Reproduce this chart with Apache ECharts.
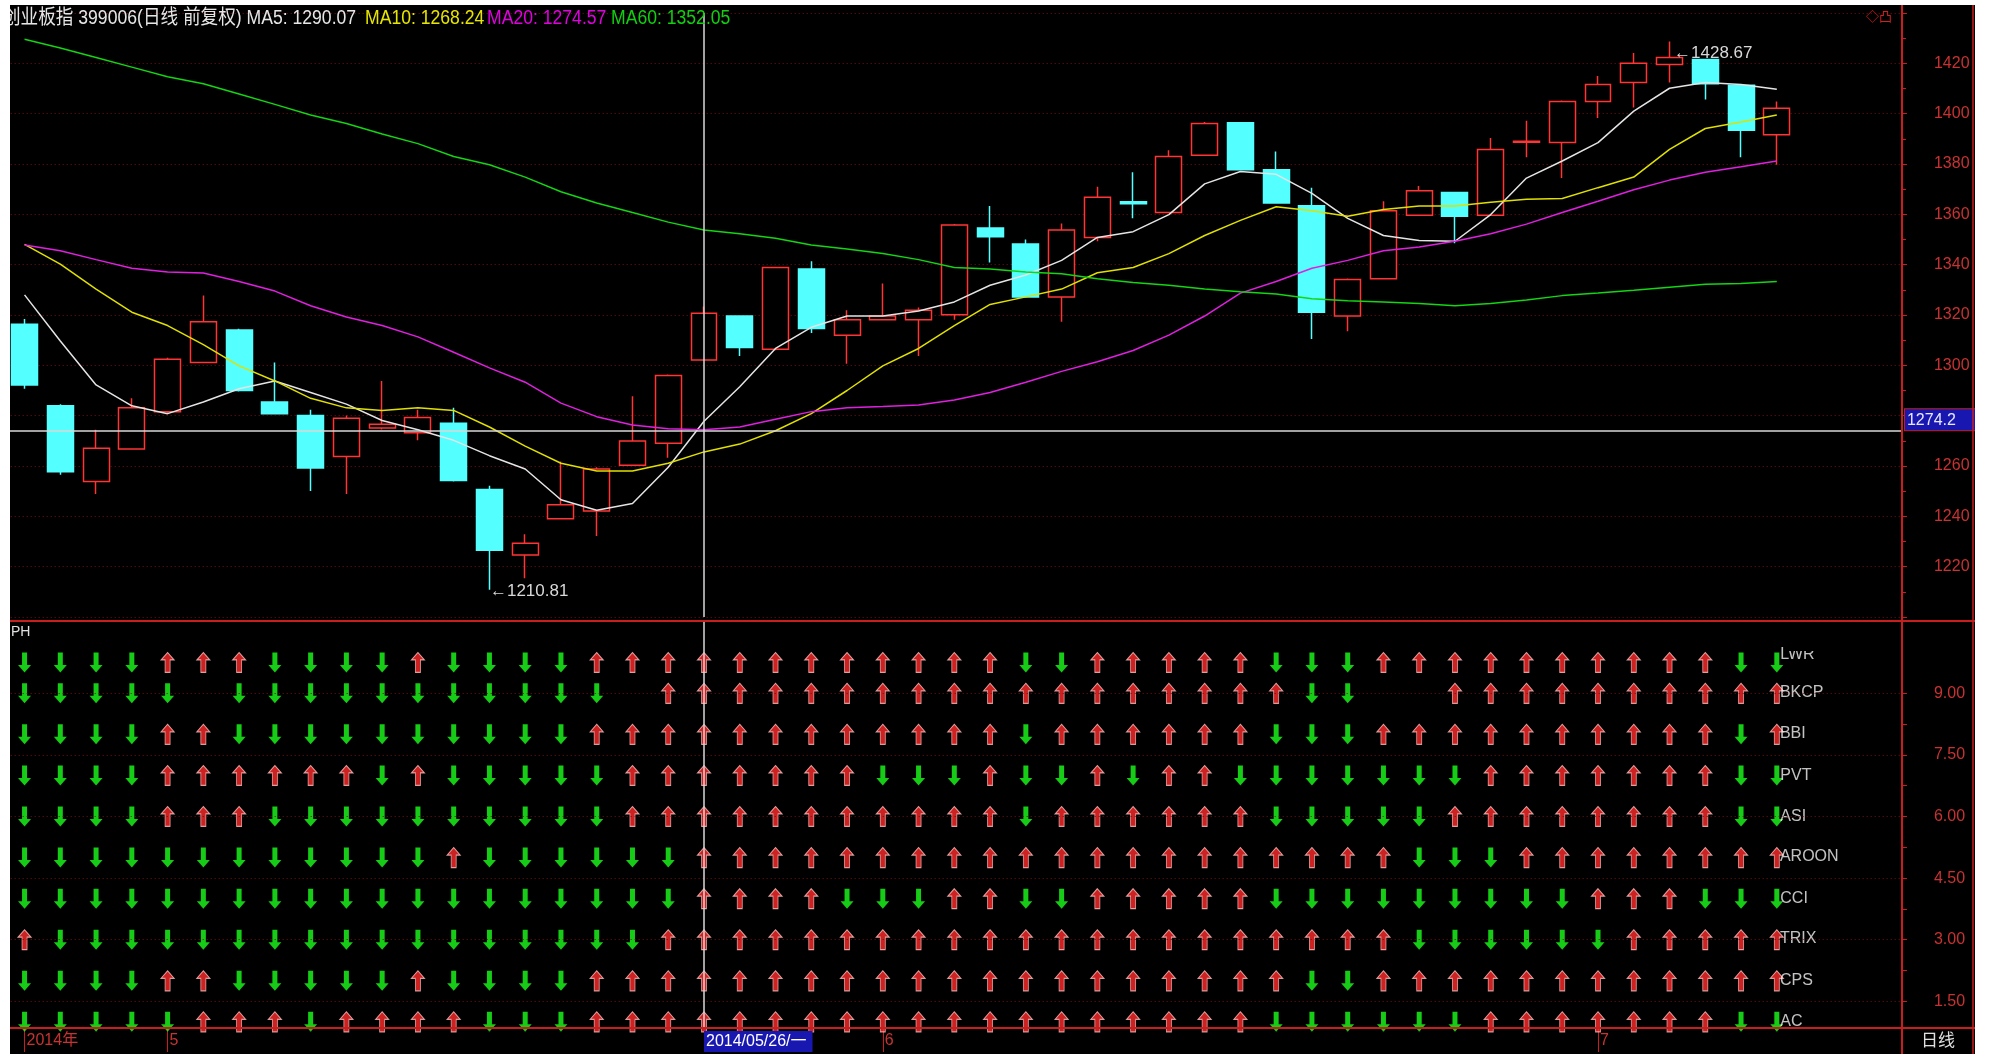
<!DOCTYPE html>
<html><head><meta charset="utf-8">
<script src="https://cdn.jsdelivr.net/npm/echarts@6/dist/echarts.min.js"></script>
<style>html,body{margin:0;padding:0;background:#fff}#c{width:1995px;height:1059px}</style>
</head><body><div id="c"></div>
<script>
// ---------------- data ----------------
const dates = ['2014/04/25','2014/04/28','2014/04/29','2014/04/30','2014/05/05','2014/05/06','2014/05/07','2014/05/08','2014/05/09','2014/05/12',
'2014/05/13','2014/05/14','2014/05/15','2014/05/16','2014/05/19','2014/05/20','2014/05/21','2014/05/22','2014/05/23','2014/05/26',
'2014/05/27','2014/05/28','2014/05/29','2014/05/30','2014/06/03','2014/06/04','2014/06/05','2014/06/06','2014/06/09','2014/06/10',
'2014/06/11','2014/06/12','2014/06/13','2014/06/16','2014/06/17','2014/06/18','2014/06/19','2014/06/20','2014/06/23','2014/06/24',
'2014/06/25','2014/06/26','2014/06/27','2014/06/30','2014/07/01','2014/07/02','2014/07/03','2014/07/04','2014/07/07','2014/07/08'];
const opens  = [1316.3,1283.9,1253.8,1266.8,1281.6,1301.1,1314.0,1285.4,1280.1,1263.8,
1275.1,1273.2,1277.0,1250.7,1224.6,1239.0,1242.1,1260.3,1269.0,1302.1,
1319.6,1306.4,1338.3,1312.0,1318.1,1318.1,1320.1,1354.6,1348.2,1327.2,
1350.8,1365.0,1360.7,1383.5,1396.4,1377.7,1363.4,1319.6,1334.4,1359.6,
1368.7,1359.6,1388.6,1388.5,1404.8,1412.4,1419.5,1421.5,1411.3,1391.6];
const closes = [1292.2,1257.7,1267.1,1283.1,1302.4,1317.3,1290.0,1280.8,1259.2,1279.0,
1276.6,1279.3,1254.2,1226.5,1229.3,1244.6,1258.8,1269.9,1296.0,1320.7,
1307.1,1338.9,1314.6,1318.1,1319.6,1321.9,1355.8,1351.1,1327.2,1353.8,
1366.8,1364.2,1383.0,1396.1,1377.7,1364.5,1321.1,1334.1,1361.4,1369.4,
1359.2,1385.8,1389.0,1404.8,1411.6,1420.0,1422.3,1411.9,1393.4,1402.2];
const lows   = [1290.7,1256.5,1248.9,1266.5,1281.0,1300.8,1289.6,1280.5,1250.1,1248.9,
1274.5,1270.2,1253.8,1210.81,1215.4,1238.7,1232.2,1260.0,1263.3,1301.8,
1303.7,1306.0,1312.8,1300.6,1317.8,1303.7,1318.1,1340.9,1326.9,1317.3,
1349.3,1358.4,1360.4,1383.2,1377.4,1364.2,1310.5,1313.5,1334.1,1359.3,
1348.5,1359.3,1382.7,1374.4,1398.3,1402.5,1412.4,1405.6,1382.7,1379.7];
const highs  = [1318.4,1284.5,1274.4,1286.9,1303.0,1327.7,1314.5,1301.1,1282.4,1280.1,
1293.8,1282.4,1283.1,1252.2,1232.9,1261.8,1259.5,1287.7,1296.4,1323.4,
1319.9,1339.2,1341.4,1321.9,1332.5,1323.0,1356.2,1363.3,1350.0,1356.4,
1371.0,1376.7,1385.5,1396.7,1396.7,1385.0,1370.6,1334.5,1365.2,1371.3,
1369.0,1390.3,1397.2,1405.2,1415.0,1424.1,1428.67,1421.8,1411.6,1404.8];
const ma5  = [1328.0,1309.7,1292.2,1283.9,1280.8,1285.4,1290.7,1293.8,1289.2,1284.6,
1278.1,1274.4,1270.2,1264.1,1258.8,1246.6,1242.4,1245.1,1259.5,1277.8,
1291.5,1306.7,1315.1,1319.6,1319.6,1321.6,1325.2,1331.8,1335.9,1341.7,
1350.8,1353.1,1359.9,1372.1,1377.0,1375.9,1368.3,1358.4,1351.6,1349.6,
1349.3,1359.9,1374.4,1381.2,1388.5,1401.0,1410.1,1412.4,1411.6,1409.7];
const ma10 = [1348.1,1340.2,1330.3,1321.1,1315.8,1308.2,1299.8,1293.8,1286.9,1283.1,
1282.1,1283.1,1282.1,1275.5,1267.9,1261.1,1258.0,1258.0,1261.1,1265.6,
1268.7,1274.0,1280.8,1290.0,1299.8,1306.7,1315.8,1324.2,1327.2,1330.3,
1336.8,1338.9,1344.4,1351.6,1357.6,1363.0,1361.4,1359.2,1361.9,1363.3,
1363.3,1364.8,1366.0,1366.3,1370.6,1374.8,1385.8,1394.1,1396.7,1399.5];
const ma20 = [1347.8,1345.5,1342.0,1338.6,1337.1,1336.7,1333.3,1329.5,1323.7,1319.2,
1315.8,1311.3,1305.2,1299.0,1293.3,1285.0,1279.6,1276.3,1274.8,1274.4,
1275.5,1278.6,1281.6,1283.1,1283.6,1284.2,1286.2,1289.2,1293.3,1297.6,
1301.4,1305.9,1312.0,1319.6,1328.7,1333.3,1338.6,1341.7,1345.5,1347.0,
1349.3,1352.3,1356.1,1360.7,1365.2,1369.8,1373.6,1376.7,1378.9,1381.2];
const ma60 = [1429.6,1426.1,1422.3,1418.5,1414.7,1411.9,1407.8,1403.7,1399.5,1396.1,
1391.9,1388.1,1383.0,1379.7,1374.8,1369.0,1364.5,1360.7,1356.9,1353.8,
1352.3,1350.5,1347.8,1346.2,1344.4,1342.0,1338.9,1338.3,1337.1,1336.4,
1334.4,1332.9,1331.8,1330.3,1329.2,1328.3,1326.5,1325.7,1325.2,1324.6,
1323.7,1324.6,1326.0,1327.7,1328.7,1329.8,1331.0,1332.2,1332.5,1333.3];

const rowNames  = ['LWR','BKCP','BBI','PVT','ASI','AROON','CCI','TRIX','CPS','AC'];
const rowLevels = [9.75, 9, 8, 7, 6, 5, 4, 3, 2, 1];
// U = red up arrow, D = green down arrow, _ = empty
const rowSignals = [
 'DDDDUUUDDDDUDDDDUUUUUUUUUUUUDDUUUUUDDDUUUUUUUUUUDD',
 'DDDDD_DDDDDDDDDDD_UUUUUUUUUUUUUUUUUUDD__UUUUUUUUUU',
 'DDDDUUDDDDDDDDDDUUUUUUUUUUUUDUUUUUUDDDUUUUUUUUUUDU',
 'DDDDUUUUUUDUDDDDDUUUUUUUDDDUDDUDUUDDDDDDDUUUUUUUDD',
 'DDDDUUUDDDDDDDDDDUUUUUUUUUUUDUUUUUUDDDDDUUUUUUUUDD',
 'DDDDDDDDDDDDUDDDDDDUUUUUUUUUUUUUUUUUUUUDDDUUUUUUUU',
 'DDDDDDDDDDDDDDDDDDDUUUUDDDUUDDUUUUUDDDDDDDDDUUUDDD',
 'UDDDDDDDDDDDDDDDDDUUUUUUUUUUUUUUUUUUUUUDDDDDDUUUUU',
 'DDDDUUDDDDDUDDDDUUUUUUUUUUUUUUUUUUUUDDUUUUUUUUUUUU',
 'DDDDDUUUDUUUUDDDUUUUUUUUUUUUUUUUUUUDDDDDDUUUUUUUDD'
];
const lowerTickLabels = [1.5, 3, 4.5, 6, 7.5, 9];
const crossIndex = 19;
const crossPrice = 1274.2;
const crossDateLabel = '2014/05/26/一';
const headerTitle = '创业板指 399006(日线 前复权) MA5: 1290.07';
const headerMA10 = 'MA10: 1268.24';
const headerMA20 = 'MA20: 1274.57';
const headerMA60 = 'MA60: 1352.05';

// ---------------- styling helpers ----------------
const RED = '#c81e1e';
const LBL = '#c83232';
const GRIDC = '#741010';
const UP = 'path://M6.5,0 L13,7.5 L9,7.5 L9,20 L4,20 L4,7.5 L0,7.5 Z';
const DOWN = 'path://M4,0 L9,0 L9,12.5 L13,12.5 L6.5,20 L0,12.5 L4,12.5 Z';
const upStyle = {color:'#ff2a2a', borderColor:'#ffc0c0', borderWidth:1};
const downStyle = {color:'#1cff1c'};
const SANS = '"Liberation Sans",Arial,"Noto Sans CJK SC",sans-serif';
const HFONT = '20px "Liberation Sans","Noto Sans CJK SC",sans-serif';

const lowerTickMarks = [];
lowerTickLabels.forEach((v,i)=>{ lowerTickMarks.push(v); if(i<lowerTickLabels.length-1) lowerTickMarks.push((v+lowerTickLabels[i+1])/2); });

const monthStart = (i) => i === 0 || (i < dates.length && dates[i].slice(5,7) !== dates[i-1].slice(5,7));

const rowSeries = rowNames.map((name, r) => {
  const sig = rowSignals[r];
  const data = [];
  for (let i = 0; i < dates.length; i++) {
    const c = sig[i];
    if (c !== 'U' && c !== 'D') continue;
    const item = {value:[dates[i], rowLevels[r]], symbol: c==='U'?UP:DOWN, itemStyle: c==='U'?upStyle:downStyle};
    if (i === dates.length-1) item.label = {show:true, formatter:name, position:[10, r===0?2:10], align:'left', verticalAlign:'middle', color:'#f2f2f2', fontSize:16, fontFamily:SANS};
    data.push(item);
  }
  const s = {type:'scatter', name, xAxisIndex:1, yAxisIndex:1, symbolSize:[13,20], data, z:3, silent:true};
  if (r === 0) {
    s.markLine = {silent:true, symbol:['none','none'], animation:false,
      data: lowerTickLabels.map(v => ({yAxis:v, lineStyle:{color:GRIDC, type:[1,3], width:1}, label:{show:false}}))
        .concat([{xAxis: dates[crossIndex], lineStyle:{color:'#d8d8d8', type:'solid', width:1.5},
          label:{show:true, position:'start', formatter: crossDateLabel, distance:3, align:'left', verticalAlign:'top',
            backgroundColor:'#1818b0', color:'#ffffff', padding:[3,6,2,2], fontSize:16, fontFamily:SANS}}])
    };
  }
  return s;
});

const chart = echarts.init(document.getElementById('c'));
const option = {
  animation:false,
  backgroundColor:'#000',
  grid:[
    {left:6.67, top:13, width:1895.3, height:604},
    {left:6.67, top:621, width:1895.3, height:407}
  ],
  xAxis:[
    {type:'category', gridIndex:0, data:dates, max:52, show:false},
    {type:'category', gridIndex:1, data:dates, max:52,
      axisLine:{show:true, lineStyle:{color:RED, width:2}},
      axisTick:{show:true, alignWithLabel:true, interval:(i)=>monthStart(i), length:24, lineStyle:{color:RED}},
      axisLabel:{show:true, interval:(i)=>monthStart(i), align:'left', padding:[0,0,0,2], margin:5, color:LBL, fontSize:16,
        fontFamily:SANS,
        formatter:(v,i)=> i===0 ? v.slice(0,4)+'年' : String(parseInt(v.slice(5,7),10))},
      splitLine:{show:false}}
  ],
  yAxis:[
    {type:'value', gridIndex:0, position:'right', min:1200, max:1440, interval:20,
      axisLine:{show:true, lineStyle:{color:RED, width:2}},
      axisTick:{show:true, length:5, lineStyle:{color:RED}},
      minorTick:{show:true, splitNumber:2, length:4, lineStyle:{color:RED}},
      axisLabel:{showMinLabel:false, showMaxLabel:false, margin:32, color:LBL, fontSize:16, fontFamily:SANS,
        formatter:(v)=> Math.abs(v-crossPrice) < 12 ? '' : String(v)},
      splitLine:{show:true, lineStyle:{color:GRIDC, type:[1,3], width:1}}},
    {type:'value', gridIndex:1, position:'right', min:0.85, max:10.76,
      axisLine:{show:true, lineStyle:{color:RED, width:2}},
      axisTick:{show:true, customValues:lowerTickMarks, length:5, lineStyle:{color:RED}},
      axisLabel:{show:true, customValues:lowerTickLabels, margin:32, color:LBL, fontSize:16, fontFamily:SANS,
        formatter:(v)=> Number(v).toFixed(2)},
      splitLine:{show:false}}
  ],
  series:[
    {type:'candlestick', name:'K', xAxisIndex:0, yAxisIndex:0, barWidth:'74%', z:3,
      data: dates.map((d,i)=>[opens[i], closes[i], lows[i], highs[i]]),
      itemStyle:{color:'#000000', color0:'#54ffff', borderColor:'#ff3434', borderColor0:'#54ffff', borderWidth:1.5},
      markLine:{silent:true, symbol:['none','none'], animation:false,
        data:[
          {yAxis:crossPrice, lineStyle:{color:'#d8d8d8', type:'solid', width:1.5},
            label:{show:true, position:'end', formatter:String(crossPrice), distance:3, align:'left', verticalAlign:'bottom',
              backgroundColor:'#1818b0', borderColor:'#c02020', borderWidth:1, color:'#e8e8ff', padding:[3,20,2,2], fontSize:16,
              fontFamily:SANS}},
          {xAxis:dates[crossIndex], lineStyle:{color:'#d8d8d8', type:'solid', width:1.5}, label:{show:false}}
        ]},
      markPoint:{silent:true, symbol:'circle', symbolSize:1, itemStyle:{color:'transparent'}, animation:false,
        label:{show:true, color:'#d8d8d8', fontSize:17, fontFamily:SANS, formatter:(p)=>'←'+p.value},
        data:[
          {type:'min', valueDim:'lowest', label:{position:'right', distance:0, offset:[0,2]}},
          {type:'max', valueDim:'highest', label:{position:'right', distance:4, offset:[0,12]}}
        ]}
    },
    {type:'line', name:'MA5', data:ma5, xAxisIndex:0, yAxisIndex:0, symbol:'none', lineStyle:{color:'#e4e4e4', width:1.5}, z:4},
    {type:'line', name:'MA10', data:ma10, xAxisIndex:0, yAxisIndex:0, symbol:'none', lineStyle:{color:'#e0e000', width:1.5}, z:4},
    {type:'line', name:'MA20', data:ma20, xAxisIndex:0, yAxisIndex:0, symbol:'none', lineStyle:{color:'#e020e0', width:1.5}, z:4},
    {type:'line', name:'MA60', data:ma60, xAxisIndex:0, yAxisIndex:0, symbol:'none', lineStyle:{color:'#14d414', width:1.5}, z:4}
  ].concat(rowSeries),
  graphic:[
    {type:'text', x:3, y:8, scaleX:0.88, z:50, style:{text:headerTitle, fill:'#e6e6e6', font:HFONT}},
    {type:'text', x:365, y:8, scaleX:0.88, z:50, style:{text:headerMA10, fill:'#e6e600', font:HFONT}},
    {type:'text', x:487, y:8, scaleX:0.88, z:50, style:{text:headerMA20, fill:'#e000e0', font:HFONT}},
    {type:'text', x:611, y:8, scaleX:0.88, z:50, style:{text:headerMA60, fill:'#10d010', font:HFONT}},
    {type:'text', left:1866, top:11, z:50, style:{text:'◇凸', fill:'#d02020', font:'13px '+SANS}},
    {type:'text', left:11, top:625, z:50, style:{text:'PH', fill:'#e0e0e0', font:'14px '+SANS}},
    {type:'text', left:1921, top:1031, z:50, style:{text:'日线', fill:'#e0e0e0', font:'17px "Noto Sans CJK SC",sans-serif'}},
    {type:'rect', z:60, shape:{x:1784, y:622, width:60, height:29}, style:{fill:'#000'}},
    {type:'line', z:70, shape:{x1:10, y1:621, x2:1975, y2:621}, style:{stroke:RED, lineWidth:2}},
    {type:'line', z:70, shape:{x1:10, y1:1028, x2:1975, y2:1028}, style:{stroke:RED, lineWidth:2}},
    {type:'line', z:70, shape:{x1:1902, y1:5, x2:1902, y2:1054}, style:{stroke:RED, lineWidth:2}},
    {type:'line', z:70, shape:{x1:1973, y1:5, x2:1973, y2:1054}, style:{stroke:RED, lineWidth:1.5}},
    {type:'rect', z:90, shape:{x:0, y:0, width:10, height:1059}, style:{fill:'#fff'}},
    {type:'rect', z:90, shape:{x:0, y:0, width:1995, height:5}, style:{fill:'#fff'}},
    {type:'rect', z:90, shape:{x:1975, y:0, width:20, height:1059}, style:{fill:'#fff'}},
    {type:'rect', z:90, shape:{x:0, y:1054, width:1995, height:5}, style:{fill:'#fff'}}
  ]
};
chart.setOption(option);
</script>
</body></html>
